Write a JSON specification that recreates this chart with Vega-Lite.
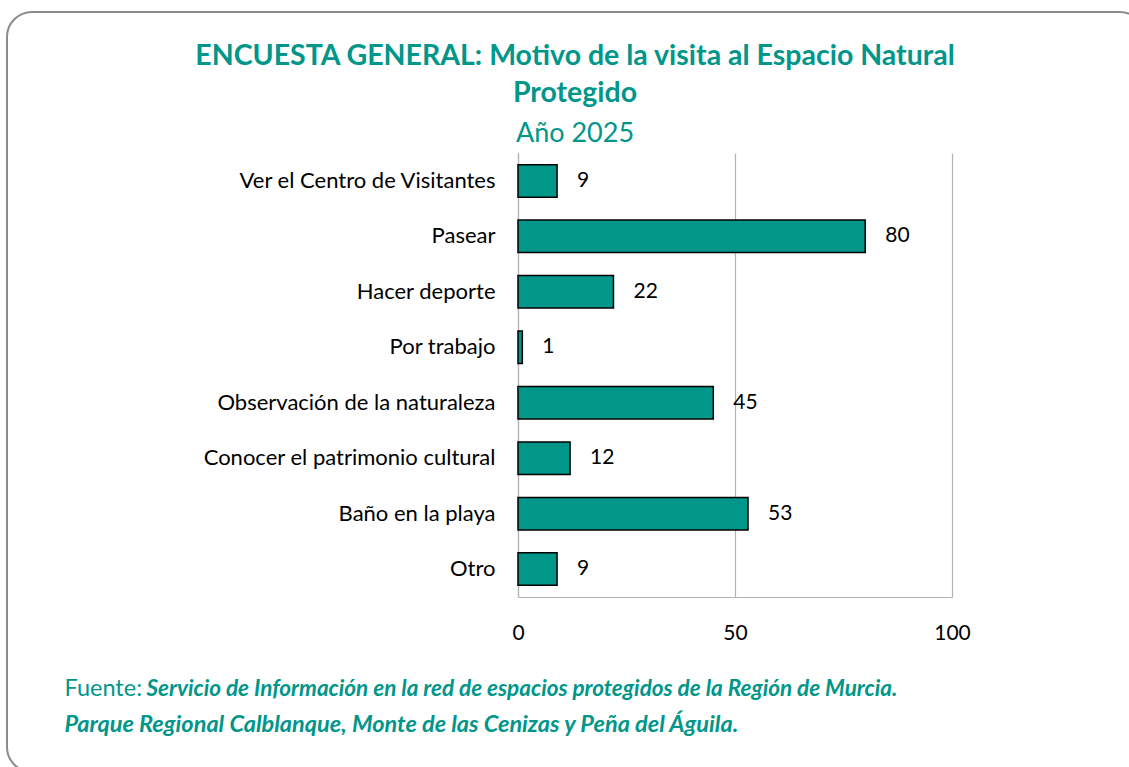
{
  "$schema": "https://vega.github.io/schema/vega-lite/v6.json",
  "autosize": {"type": "none"},
  "width": 434,
  "height": 444,
  "padding": {"left": 518, "top": 153, "right": 177, "bottom": 170},
  "background": "white",
  "config": {
    "view": {"stroke": null},
    "legend": {"gradientHorizontalMaxLength": 3000, "gradientVerticalMaxLength": 3000}
  },
  "title": {
    "text": ["ENCUESTA GENERAL: Motivo de la visita al Espacio Natural", "Protegido"],
    "subtitle": "Año 2025",
    "anchor": "middle",
    "frame": "group",
    "dx": -160,
    "font": "Lato",
    "fontSize": 28.5,
    "fontWeight": "bold",
    "color": "#00968A",
    "lineHeight": 37,
    "subtitleFont": "Lato",
    "subtitleFontSize": 27,
    "subtitleColor": "#00968A",
    "subtitleFontWeight": "normal",
    "subtitlePadding": 14,
    "offset": -136
  },
  "data": {
    "values": [
      {"motivo": "Ver el Centro de Visitantes", "valor": 9},
      {"motivo": "Pasear", "valor": 80},
      {"motivo": "Hacer deporte", "valor": 22},
      {"motivo": "Por trabajo", "valor": 1},
      {"motivo": "Observación de la naturaleza", "valor": 45},
      {"motivo": "Conocer el patrimonio cultural", "valor": 12},
      {"motivo": "Baño en la playa", "valor": 53},
      {"motivo": "Otro", "valor": 9}
    ]
  },
  "encoding": {
    "x": {
      "field": "valor",
      "type": "quantitative",
      "scale": {"domain": [0, 100], "nice": false},
      "axis": {
        "values": [0, 50, 100],
        "grid": true,
        "gridColor": "#B3B3B3",
        "gridWidth": 1.2,
        "domainColor": "#B3B3B3",
        "domainWidth": 1.2,
        "ticks": false,
        "labelFont": "Lato",
        "labelFontSize": 21,
        "labelColor": "#000000",
        "labelPadding": 25,
        "labelFlush": false,
        "title": "Servicio de Información en la red de espacios protegidos de la Región de Murcia.",
        "titleFont": "Lato",
        "titleFontSize": 22.5,
        "titleFontWeight": "bold",
        "titleFontStyle": "italic",
        "titleColor": "#00968A",
        "titleAlign": "left",
        "titleBaseline": "alphabetic",
        "titleLimit": 1000,
        "titleX": -372,
        "titleY": 98
      }
    }
  },
  "layer": [
    {
      "mark": {"type": "bar", "fill": "#009688", "stroke": "#000000", "strokeWidth": 1.5},
      "encoding": {
        "y": {
          "field": "motivo",
          "type": "nominal",
          "sort": null,
          "scale": {"paddingInner": 0.414, "paddingOuter": 0.21},
          "axis": {
            "ticks": false,
            "grid": false,
            "domain": true,
            "domainColor": "#B3B3B3",
            "domainWidth": 1.2,
            "labelFont": "Lato",
            "labelFontSize": 22,
            "labelColor": "#000000",
            "labelPadding": 23,
            "labelLimit": 0,
            "title": "Fuente:",
            "titleFont": "Lato",
            "titleFontSize": 23.5,
            "titleFontWeight": "normal",
            "titleColor": "#00968A",
            "titleAngle": 0,
            "titleAlign": "left",
            "titleBaseline": "alphabetic",
            "titleX": -454,
            "titleY": 542
          }
        }
      }
    },
    {
      "mark": {"type": "text", "align": "left", "baseline": "middle", "dx": 20, "font": "Lato", "fontSize": 21},
      "encoding": {
        "y": {
          "field": "motivo",
          "type": "nominal",
          "sort": null,
          "axis": {
            "labels": false,
            "ticks": false,
            "domain": false,
            "grid": false,
            "title": "Parque Regional Calblanque, Monte de las Cenizas y Peña del Águila.",
            "titleFont": "Lato",
            "titleFontSize": 23.5,
            "titleFontWeight": "bold",
            "titleFontStyle": "italic",
            "titleColor": "#00968A",
            "titleAngle": 0,
            "titleAlign": "left",
            "titleBaseline": "alphabetic",
            "titleLimit": 1000,
            "titleX": -888,
            "titleY": 578
          }
        },
        "text": {"field": "valor", "type": "quantitative"},
        "color": {
          "field": "valor",
          "type": "quantitative",
          "scale": {"range": ["#000000", "#000000"]},
          "legend": {
            "orient": "none",
            "legendX": -511,
            "legendY": -141,
            "direction": "horizontal",
            "gradientLength": 1138,
            "gradientThickness": 760,
            "gradientOpacity": 0,
            "gradientStrokeWidth": 0,
            "title": null,
            "values": [],
            "labelOpacity": 0,
            "padding": 0,
            "strokeColor": "#8C8C8C",
            "cornerRadius": 25,
            "encode": {"legend": {"update": {"strokeWidth": {"value": 2}}}}
          }
        }
      }
    }
  ],
  "resolve": {"axis": {"y": "independent"}}
}
